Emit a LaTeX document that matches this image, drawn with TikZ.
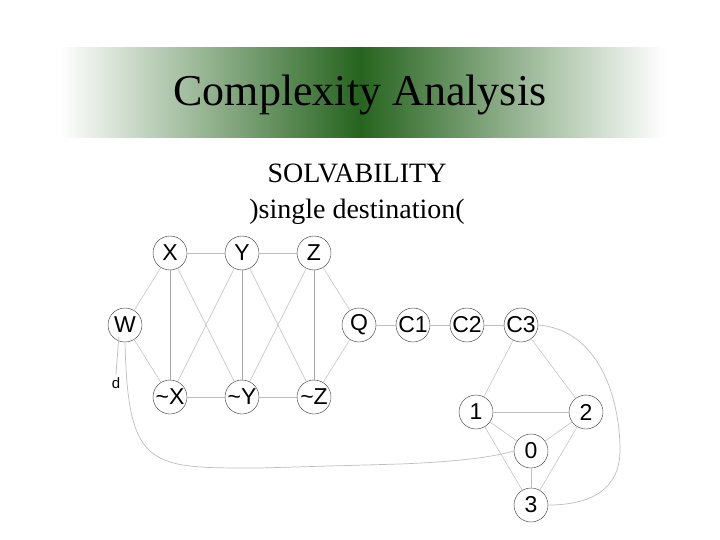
\documentclass[tikz,border=0pt]{standalone}
\usepackage{fontspec}
\setmainfont{Liberation Serif}
\newfontfamily\arialf{Liberation Sans}
\definecolor{dg}{RGB}{38,100,30}
\definecolor{ln}{RGB}{190,190,190}
\begin{document}
\begin{tikzpicture}[x=1pt,y=-1pt,
  vtx/.style={circle,draw=black!80,fill=white,minimum size=34pt,inner sep=0pt,font=\arialf\fontsize{23}{23}\selectfont},
  ed/.style={draw=ln,line width=0.7pt}]
\useasboundingbox (0,0) rectangle (720,540);
\fill[white] (0,0) rectangle (720,540);
\shade[left color=white,right color=dg] (60,48) rectangle (360,138);
\shade[left color=dg,right color=white] (360,48) rectangle (665,138);
\node (title) at (360,95) {\fontsize{44}{44}\selectfont Complexity Analysis};
\node (sub1) at (357,173) {\fontsize{28}{28}\selectfont SOLVABILITY};
\node (sub2) at (357,212) {\fontsize{28}{28}\selectfont )single destination(};
\node[vtx] (X) at (170,253) {X};
\node[vtx] (Y) at (242,253) {Y};
\node[vtx] (Z) at (314,253) {Z};
\node[vtx] (W) at (125,325) {W};
\node[vtx] (Q) at (359,325) {Q};
\node[vtx] (C1) at (413,325) {C1};
\node[vtx] (C2) at (467,325) {C2};
\node[vtx] (C3) at (521,325) {C3};
\node[vtx] (nX) at (170,397) {\textasciitilde X};
\node[vtx] (nY) at (242,397) {\textasciitilde Y};
\node[vtx] (nZ) at (314,397) {\textasciitilde Z};
\node[vtx] (n1) at (476,412) {1};
\node[vtx] (n2) at (586,412) {2};
\node[vtx] (n0) at (531,451) {0};
\node[vtx] (n3) at (531,505) {3};
\node[font=\arialf\fontsize{15}{15}\selectfont] (d) at (116,383) {d};
\foreach \a/\b in {X/Y,Y/Z,nX/nY,nY/nZ,Q/C1,C1/C2,C2/C3,n1/n2,n0/n3}
  \draw[ed] (\a)--(\b);
\foreach \a/\b in {X/nX,Y/nY,Z/nZ}
  \draw[draw=black!35,line width=0.9pt] (\a)--(\b);
\foreach \a/\b in {W/X,W/nX,X/nY,Y/nX,Y/nZ,Z/nY,Z/Q,nZ/Q,C3/n1,C3/n2,n1/n0,n2/n0,n1/n3,n2/n3}
  \draw[ed,line width=0.5pt] (\a)--(\b);
\draw[ed] (W.south west) ++(6,0) coordinate (wd) -- (d.north);
\draw[ed] (W.south) .. controls (128,470) and (150,468) .. (260,468) -- (400,464) .. controls (450,462) and (490,458) .. (n0.west);
\draw[ed] (C3.east) .. controls (600,330) and (620,400) .. (620,450) .. controls (620,490) and (590,505) .. (n3.east);
\end{tikzpicture}
\end{document}
